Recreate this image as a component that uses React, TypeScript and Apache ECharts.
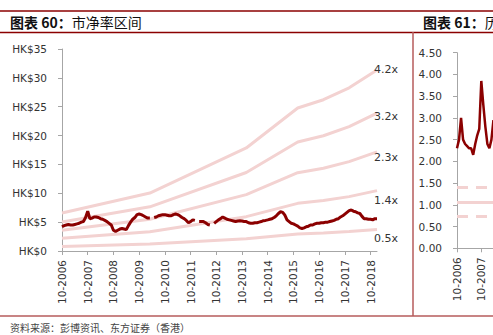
import React, { useEffect, useRef } from 'react';
import * as echarts from 'echarts';

const FONT = '"DejaVu Sans", Verdana, sans-serif';
const CJK = '"Noto Sans CJK SC", sans-serif';

// monthly categories, Oct 2006 .. Jan 2019
function buildMonths(startYear: number, startMonth: number, count: number): string[] {
  const out: string[] = [];
  let y = startYear;
  let m = startMonth;
  for (let i = 0; i < count; i++) {
    out.push(`${m}-${y}`);
    m++;
    if (m > 12) { m = 1; y++; }
  }
  return out;
}
const months = buildMonths(2006, 10, 148);
// right panel shows only its first 19 months inside the window
const rightMonths = buildMonths(2006, 10, 19);

// share price (HK$), monthly readings
const priceHK: (number | null)[] = [
  4.2, 4.4, 4.5, 4.6, 4.5, 4.5, 4.6, 4.7, 4.8, 5.0, 5.1, 5.8,
  6.9, 5.6, 5.7, 5.9, 5.9, 5.8, 5.6, 5.5, 5.3, 5.1, 4.8, 4.5,
  3.6, 3.4, 3.6, 3.8, 3.9, 3.8, 3.7, 4.4, 5.0, 5.5, 5.8, 6.3,
  6.4, 6.3, 6.1, 5.9, 5.7, 5.7, null, 5.8, 5.9, 6.1, 6.2, 6.3,
  6.3, 6.2, 6.1, 6.1, 6.3, 6.4, 6.3, 6.1, 5.8, 5.6, 5.3, 4.9,
  5.1, 5.4, 5.3, null, 5.1, 5.1, 5.1, 4.9, 4.6, 4.5, null, 4.8,
  5.1, 5.4, 5.6, 5.9, 5.7, 5.5, 5.4, 5.3, 5.2, 5.1, 5.2, 5.25,
  5.2, 5.1, 5.1, 4.9, 4.8, 4.8, 4.9, 4.9, 5.0, 5.1, 5.25, 5.3,
  5.4, 5.5, 5.6, 5.8, 6.1, 6.5, 6.8, 6.7, 6.2, 5.4, 5.1, 4.8,
  4.7, 4.5, 4.3, 4.0, 3.9, 4.0, 4.2, 4.3, 4.5, 4.5, 4.7, 4.8,
  4.8, 4.9, 4.9, 5.0, 5.0, 5.1, 5.2, 5.3, 5.5, 5.6, 5.9, 6.1,
  6.4, 6.7, 7.0, 7.1, 6.9, 6.8, 6.6, 6.5, 6.0, 5.6, 5.6, 5.5,
  5.5, 5.4, 5.6, 5.6,
];

// book value per share at knot months (index into months)
const bvpsMonthIdx = [0, 41, 86, 110, 122, 134, 147];
const bvpsValues = [1.57, 2.39, 4.25, 5.9, 6.24, 6.73, 7.47];
const multiples = [4.2, 3.2, 2.3, 1.4, 0.5];
const bandLabels = ['4.2x', '3.2x', '2.3x', '1.4x', '0.5x'];
const bandLabelDy = [0, 3, 6, 10, 9];

// right panel: historical P/B (visible part only)
const rightPB = [2.3, 2.5, 3.0, 2.5, 2.4, 2.35, 2.3, 2.3, 2.15, 2.4, 2.6, 2.75, 3.85, 3.3, 2.8, 2.4, 2.3, 2.5, 2.95];
const rightRefLines = [1.41, 1.07, 0.73];

const App: React.FC = () => {
  const ref = useRef<HTMLDivElement>(null);
  useEffect(() => {
    if (!ref.current) return;
    const chart = echarts.init(ref.current, undefined, { renderer: 'svg' });
    const tickFn = (i: number) => i % 12 === 0;

    const bandSeries = multiples.map((k, bi) => {
      const data: (number | null)[] = months.map(() => null);
      bvpsMonthIdx.forEach((mi, j) => { data[mi] = +(k * bvpsValues[j]).toFixed(2); });
      return {
        type: 'line',
        xAxisIndex: 0,
        yAxisIndex: 0,
        data,
        connectNulls: true,
        symbol: 'none',
        z: 2,
        lineStyle: { color: '#F3D2D1', width: 3 },
        endLabel: {
          show: true,
          formatter: bandLabels[bi],
          offset: [-11, bandLabelDy[bi]],
          color: '#333',
          fontSize: 11,
          fontFamily: FONT,
        },
      };
    });

    const axisLineStyle = { color: '#A6A6A6', width: 1 };
    const xLabel = { interval: tickFn, rotate: 90, margin: 9, fontSize: 10.5, color: '#333', fontFamily: FONT };

    chart.setOption({
      animation: false,
      backgroundColor: '#fff',
      grid: [
        { left: 62, top: 49, width: 315, height: 202, outerBoundsMode: 'none' },
        { left: 457, top: 52.7, width: 36.45, height: 195.6, outerBoundsMode: 'none' },
      ],
      xAxis: [
        {
          type: 'category',
          gridIndex: 0,
          data: months,
          boundaryGap: false,
          axisLine: { lineStyle: axisLineStyle },
          axisTick: { interval: tickFn, length: 4, lineStyle: axisLineStyle },
          axisLabel: xLabel,
          splitLine: { show: false },
        },
        {
          type: 'category',
          gridIndex: 1,
          data: rightMonths,
          boundaryGap: false,
          axisLine: { lineStyle: axisLineStyle },
          axisTick: { interval: tickFn, length: 4, lineStyle: axisLineStyle },
          axisLabel: xLabel,
          splitLine: { show: false },
        },
      ],
      yAxis: [
        {
          type: 'value',
          gridIndex: 0,
          min: 0,
          max: 35,
          interval: 5,
          axisLine: { show: true, lineStyle: axisLineStyle },
          axisTick: { show: true, length: 4, lineStyle: axisLineStyle },
          axisLabel: { formatter: (v: number) => 'HK$' + v, margin: 15, fontSize: 10.5, color: '#333', fontFamily: FONT },
          splitLine: { show: false },
        },
        {
          type: 'value',
          gridIndex: 1,
          min: 0,
          max: 4.5,
          interval: 0.5,
          axisLine: { show: true, lineStyle: axisLineStyle },
          axisTick: { show: true, length: 4, lineStyle: axisLineStyle },
          axisLabel: { formatter: (v: number) => v.toFixed(2), margin: 15, fontSize: 10.5, color: '#333', fontFamily: FONT },
          splitLine: { show: false },
        },
      ],
      series: [
        ...bandSeries,
        {
          type: 'line',
          xAxisIndex: 0,
          yAxisIndex: 0,
          data: priceHK,
          symbol: 'none',
          connectNulls: false,
          z: 3,
          lineStyle: { color: '#8B0000', width: 3 },
        },
        {
          type: 'line',
          xAxisIndex: 1,
          yAxisIndex: 1,
          data: rightPB,
          symbol: 'none',
          z: 3,
          lineStyle: { color: '#8B0000', width: 2.5 },
          markLine: {
            silent: true,
            symbol: ['none', 'none'],
            label: { show: false },
            z: 1,
            data: rightRefLines.map((v, i) => ({
              yAxis: v,
              lineStyle: { color: '#F3D2D1', width: 3, type: i === 1 ? 'solid' : [11, 8] },
            })),
          },
        },
      ],
      graphic: [
        { type: 'line', shape: { x1: 0, y1: 11, x2: 493, y2: 11 }, style: { stroke: '#8B0000', lineWidth: 1.5 } },
        { type: 'line', shape: { x1: 0, y1: 32.5, x2: 493, y2: 32.5 }, style: { stroke: '#8B0000', lineWidth: 1.5 } },
        { type: 'line', shape: { x1: 413, y1: 32, x2: 413, y2: 316 }, style: { stroke: '#B65B5B', lineWidth: 1.5 } },
        { type: 'line', shape: { x1: 0, y1: 316, x2: 493, y2: 316 }, style: { stroke: '#B65B5B', lineWidth: 1.5 } },
        {
          type: 'text',
          x: 10,
          y: 22,
          style: {
            text: '{b|图表 60：}{n|市净率区间}',
            verticalAlign: 'middle',
            rich: {
              b: { fontFamily: CJK, fontSize: 14, fontWeight: 'bold', fill: '#111' },
              n: { fontFamily: CJK, fontSize: 14, fill: '#111' },
            },
          },
        },
        {
          type: 'text',
          x: 423,
          y: 22,
          style: {
            text: '{b|图表 61：}{n|历史市净率}',
            verticalAlign: 'middle',
            rich: {
              b: { fontFamily: CJK, fontSize: 14, fontWeight: 'bold', fill: '#111' },
              n: { fontFamily: CJK, fontSize: 14, fill: '#111' },
            },
          },
        },
        {
          type: 'text',
          x: 10,
          y: 327,
          style: {
            text: '资料来源：彭博资讯、东方证券（香港）',
            verticalAlign: 'middle',
            fontFamily: CJK,
            fontSize: 10,
            fill: '#444',
          },
        },
      ],
    });
    return () => chart.dispose();
  }, []);
  return <div ref={ref} style={{ position: 'fixed', left: 0, top: 0, width: 493, height: 335 }} />;
};

export default App;
